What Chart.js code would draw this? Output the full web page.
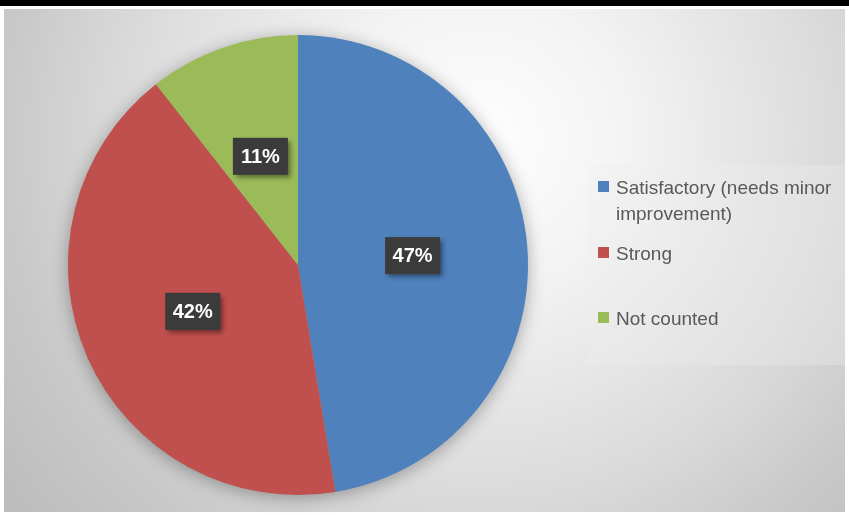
<!DOCTYPE html>
<html>
<head>
<meta charset="utf-8">
<script src="https://cdn.jsdelivr.net/npm/chart.js@4/dist/chart.umd.min.js"></script>
<style>
  html, body { margin: 0; padding: 0; background: #fff; }
  canvas { display: block; }
</style>
</head>
<body>
<canvas id="chartPie" width="849" height="515"></canvas>
<script>
const categories = ["Satisfactory (needs minor improvement)", "Strong", "Not counted"];
const shares = [47.4, 42.0, 10.6];
const sliceColors = ["#4F81BD", "#C0504D", "#9BBB59"];

const FONT = "'Liberation Sans', Arial, sans-serif";

// grey panel with a soft radial glow, plus the black rule at the very top
const backdrop = {
  id: "backdrop",
  beforeDraw(chart) {
    const ctx = chart.ctx;
    ctx.save();
    ctx.fillStyle = "#ffffff";
    ctx.fillRect(0, 0, chart.width, chart.height);
    ctx.fillStyle = "#000000";
    ctx.fillRect(0, 0, chart.width, 6);

    const g = ctx.createRadialGradient(480, 140, 0, 480, 140, 600);
    g.addColorStop(0, "#fefefe");
    g.addColorStop(0.25, "#f3f3f3");
    g.addColorStop(0.6, "#dadada");
    g.addColorStop(0.8, "#c8c8c8");
    g.addColorStop(1, "#bcbcbc");
    ctx.fillStyle = g;
    ctx.fillRect(4, 9, 841, 503);

    // legend panel, only slightly lighter than the background
    ctx.fillStyle = "rgba(240,240,240,0.3)";
    ctx.fillRect(587, 165, 258, 200);
    ctx.restore();
  }
};

// soft shadow under the whole pie
const pieShadow = {
  id: "pieShadow",
  beforeDatasetsDraw(chart) {
    const arc = chart.getDatasetMeta(0).data[0];
    if (!arc) return;
    const { x, y, outerRadius } = arc.getProps(["x", "y", "outerRadius"], true);
    const ctx = chart.ctx;
    ctx.save();
    ctx.shadowColor = "rgba(0,0,0,0.35)";
    ctx.shadowBlur = 18;
    ctx.shadowOffsetY = 3;
    ctx.fillStyle = "#999";
    ctx.beginPath();
    ctx.arc(x, y, outerRadius - 1, 0, Math.PI * 2);
    ctx.fill();
    ctx.restore();
  }
};

// dark percentage boxes in the middle of each slice
const sliceLabels = {
  id: "sliceLabels",
  afterDatasetsDraw(chart) {
    const ctx = chart.ctx;
    const values = chart.data.datasets[0].data;
    const total = values.reduce((a, b) => a + b, 0);
    chart.getDatasetMeta(0).data.forEach((arc, i) => {
      const p = arc.getProps(["x", "y", "startAngle", "endAngle", "outerRadius"], true);
      const mid = (p.startAngle + p.endAngle) / 2;
      const r = p.outerRadius * 0.5;
      const cx = p.x + Math.cos(mid) * r;
      const cy = p.y + Math.sin(mid) * r;
      const text = Math.round(values[i] / total * 100) + "%";
      const w = 55, h = 37;
      ctx.save();
      ctx.shadowColor = "rgba(0,0,0,0.45)";
      ctx.shadowBlur = 5;
      ctx.shadowOffsetX = 3;
      ctx.shadowOffsetY = 3;
      ctx.fillStyle = "#3b3b3b";
      ctx.fillRect(cx - w / 2, cy - h / 2, w, h);
      ctx.restore();
      ctx.save();
      ctx.font = "bold 20px " + FONT;
      ctx.fillStyle = "#ffffff";
      ctx.textAlign = "center";
      ctx.textBaseline = "middle";
      ctx.fillText(text, cx, cy + 1);
      ctx.restore();
    });
  }
};

// legend on the right, wrapped like the original
const sideLegend = {
  id: "sideLegend",
  afterDraw(chart) {
    const ctx = chart.ctx;
    const rowTops = [181, 247, 312];
    const textX = 616, maxW = 225, lineH = 26;
    ctx.save();
    ctx.font = "19px " + FONT;
    ctx.textBaseline = "alphabetic";
    chart.data.labels.forEach((label, i) => {
      ctx.fillStyle = sliceColors[i];
      ctx.fillRect(598, rowTops[i], 11, 11);
      const words = label.split(" ");
      const lines = [];
      let line = "";
      words.forEach(wd => {
        const test = line ? line + " " + wd : wd;
        if (ctx.measureText(test).width > maxW && line) {
          lines.push(line);
          line = wd;
        } else {
          line = test;
        }
      });
      lines.push(line);
      ctx.fillStyle = "#595959";
      lines.forEach((ln, k) => ctx.fillText(ln, textX, rowTops[i] + 13 + k * lineH));
    });
    ctx.restore();
  }
};

new Chart(document.getElementById("chartPie").getContext("2d"), {
  type: "pie",
  data: {
    labels: categories,
    datasets: [{
      label: "Share",
      data: shares,
      backgroundColor: sliceColors,
      borderWidth: 0
    }]
  },
  options: {
    responsive: false,
    animation: false,
    layout: { padding: { top: 35, bottom: 20, left: 68, right: 321 } },
    plugins: {
      legend: { display: false },
      tooltip: { enabled: false }
    }
  },
  plugins: [backdrop, pieShadow, sliceLabels, sideLegend]
});
</script>
</body>
</html>
